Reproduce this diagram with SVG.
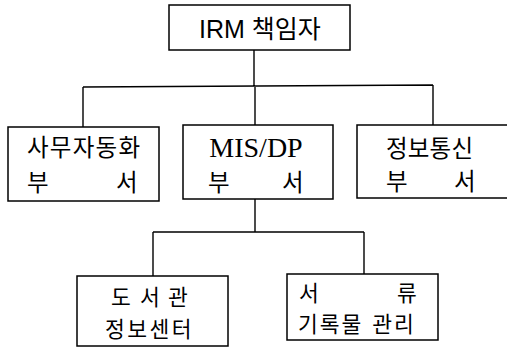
<svg xmlns="http://www.w3.org/2000/svg" width="507" height="353" viewBox="0 0 507 353">
<style>
.box{fill:#fff;stroke:#000;stroke-width:1.5}
.ln{fill:none;stroke:#000;stroke-width:1.4}
.ko{font-family:"Noto Sans CJK KR","Noto Sans",sans-serif;font-size:23.5px;fill:#000}
.ks{font-family:"Noto Sans CJK KR","Noto Sans",sans-serif;font-size:21.5px;fill:#000}
.top{font-family:"Liberation Sans","Noto Sans CJK KR",sans-serif;font-size:25px;fill:#000}
.lat{font-family:"Liberation Serif",serif;font-size:28px;fill:#000}
</style>
<rect width="507" height="353" fill="#fff"/>
<g id="connectors">
<path class="ln" d="M254 50V86M83 87L433 85M83 87V127M255 86V125M433 85V125M255 199V232M153 232H364M153 232V276M364 232V274"/>
</g>
<g id="irm">
<rect class="box" x="169" y="5" width="181" height="45"/>
<text class="top" x="199" y="38">IRM 책임자</text>
</g>
<g id="oa">
<rect class="box" x="8" y="127" width="151" height="74"/>
<text class="ko" x="27" y="156" textLength="113">사무자동화</text>
<text class="ko" x="27" y="191">부</text>
<text class="ko" x="116" y="191">서</text>
</g>
<g id="mis">
<rect class="box" x="183" y="125" width="150" height="74"/>
<text class="lat" x="256" y="157" text-anchor="middle">MIS/DP</text>
<text class="ko" x="208" y="191">부</text>
<text class="ko" x="282" y="191">서</text>
</g>
<g id="telecom">
<rect class="box" x="357" y="125" width="160" height="73"/>
<text class="ko" x="386" y="157" textLength="87">정보통신</text>
<text class="ko" x="386" y="190">부</text>
<text class="ko" x="454" y="190">서</text>
</g>
<g id="library">
<rect class="box" x="77" y="276" width="151" height="70"/>
<text class="ks" x="111" y="305">도</text>
<text class="ks" x="140" y="305">서</text>
<text class="ks" x="168" y="305">관</text>
<text class="ks" x="105" y="336.5" letter-spacing="2.5">정보센터</text>
</g>
<g id="records">
<rect class="box" x="287" y="274" width="151" height="66"/>
<text class="ks" x="299" y="300.5">서</text>
<text class="ks" x="397" y="300.5">류</text>
<text class="ks" x="298" y="332" letter-spacing="2" word-spacing="2">기록물 관리</text>
</g>
</svg>
